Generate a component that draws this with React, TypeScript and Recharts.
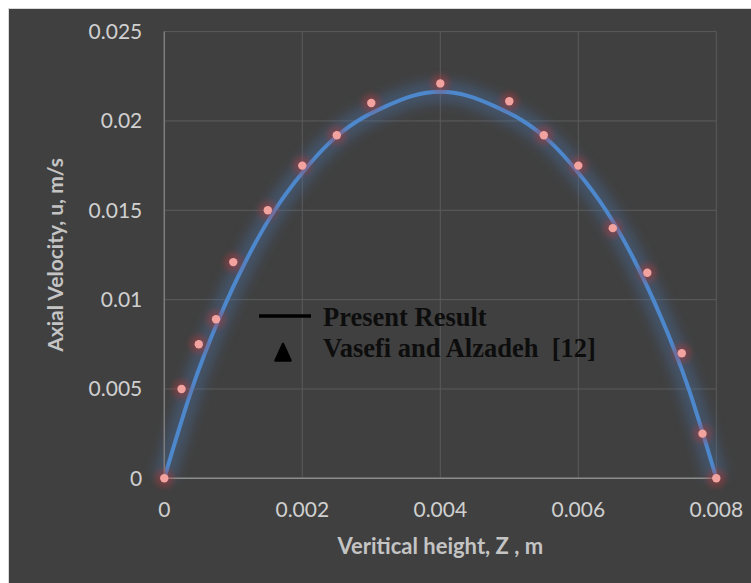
import React from 'react';
import { ComposedChart, Line, Scatter, XAxis, YAxis, CartesianGrid, Label } from 'recharts';

// Present result curve
const curveZ = [0, 0.0004, 0.0008, 0.0012, 0.0016, 0.002, 0.0024, 0.0028, 0.0032, 0.0036, 0.004, 0.0044, 0.0048, 0.0052, 0.0056, 0.006, 0.0064, 0.0068, 0.0072, 0.0076, 0.008];
const curveU = [0, 0.005, 0.009, 0.0123, 0.015, 0.0171, 0.0188, 0.02, 0.0208, 0.0214, 0.02163, 0.0214, 0.0208, 0.02, 0.0188, 0.0171, 0.015, 0.0123, 0.009, 0.005, 0];

// Vasefi and Alzadeh [12] points
const refZ = [0, 0.00025, 0.0005, 0.00075, 0.001, 0.0015, 0.002, 0.0025, 0.003, 0.004, 0.005, 0.0055, 0.006, 0.0065, 0.007, 0.0075, 0.0078, 0.008];
const refU = [0, 0.005, 0.0075, 0.0089, 0.0121, 0.015, 0.0175, 0.0192, 0.021, 0.0221, 0.0211, 0.0192, 0.0175, 0.014, 0.0115, 0.007, 0.0025, 0];

const xTicks = [0, 0.002, 0.004, 0.006, 0.008];
const yTicks = [0, 0.005, 0.01, 0.015, 0.02, 0.025];

const xTitle = 'Veritical height, Z , m';
const yTitle = 'Axial Velocity, u, m/s';
const legend1 = 'Present Result';
const legend2 = 'Vasefi and Alzadeh  [12]';

const curveData = curveZ.map((z, i) => ({ z, u: curveU[i] }));
const refData = refZ.map((z, i) => ({ z, u: refU[i] }));

const tickStyle = { fill: '#d0d0d0', fontFamily: 'Lato', fontSize: 21 };

const Dot = (props: any) => {
  const { cx, cy } = props;
  if (cx == null || cy == null) return null;
  return (
    <g>
      <circle cx={cx} cy={cy} r={9} fill="#b83a3a" opacity={0.45} style={{ filter: 'blur(3px)' }} />
      <circle cx={cx} cy={cy} r={4.2} fill="#f2a3a0" />
    </g>
  );
};

const XTitle = (props: any) => {
  const vb = props.viewBox || {};
  return (
    <text x={vb.x + vb.width / 2} y={554} textAnchor="middle" fill="#c4c4c4" fontFamily="Lato" fontWeight="bold" fontSize={22}>
      {xTitle}
    </text>
  );
};

const YTitle = (props: any) => {
  const vb = props.viewBox || {};
  const cy = vb.y + vb.height / 2;
  return (
    <text x={63} y={cy} transform={`rotate(-90, 63, ${cy})`} textAnchor="middle" fill="#c4c4c4" fontFamily="Lato" fontWeight="bold" fontSize={21}>
      {yTitle}
    </text>
  );
};

export default function App() {
  return (
    <div>
      <style>{`.glowline { filter: blur(6px); } body { overflow: hidden; }`}</style>
      <div style={{ position: 'fixed', left: 8, top: 8, right: 0, bottom: 0, background: '#404040', borderLeft: '1px solid #d9d9d9', borderTop: '1px solid #d9d9d9' }} />
      <div style={{ position: 'fixed', left: 0, top: 0, width: 751, height: 583 }}>
        <ComposedChart width={751} height={583} margin={{ top: 31.6, right: 34.7, bottom: 64.7, left: 84.3 }}>
          <CartesianGrid stroke="#5b5b5b" strokeWidth={1} />
          <XAxis
            dataKey="z"
            type="number"
            domain={[0, 0.008]}
            ticks={xTicks}
            height={40}
            tickSize={0}
            tickMargin={24}
            tickLine={false}
            axisLine={{ stroke: '#8c8c8c', strokeWidth: 1.5 }}
            tick={tickStyle}
            tickFormatter={(v: number) => String(v)}
          >
            <Label content={<XTitle />} />
          </XAxis>
          <YAxis
            type="number"
            domain={[0, 0.025]}
            ticks={yTicks}
            width={80}
            tickSize={0}
            tickMargin={22}
            tickLine={false}
            axisLine={{ stroke: '#7c7c7c', strokeWidth: 1.5 }}
            tick={tickStyle}
            tickFormatter={(v: number) => String(v)}
          >
            <Label content={<YTitle />} />
          </YAxis>
          <Line
            data={curveData}
            dataKey="u"
            type="natural"
            stroke="#4a78b4"
            strokeOpacity={0.35}
            strokeWidth={22}
            dot={false}
            activeDot={false}
            className="glowline"
            isAnimationActive={false}
            legendType="none"
          />
          <Line
            data={curveData}
            dataKey="u"
            type="natural"
            stroke="#4d87cc"
            strokeWidth={4}
            dot={false}
            activeDot={false}
            isAnimationActive={false}
          />
          <Scatter data={refData} dataKey="u" shape={<Dot />} isAnimationActive={false} />
        </ComposedChart>
      </div>
      <svg style={{ position: 'fixed', left: 0, top: 0, pointerEvents: 'none' }} width={751} height={583}>
        <line x1={259} x2={311} y1={316} y2={316} stroke="#000" strokeWidth={3.3} />
        <polygon points="283,344 290.5,360.5 275.5,360.5" fill="#000" stroke="#000" strokeWidth={2.5} strokeLinejoin="round" />
        <text x={323} y={326} fontFamily="Liberation Serif" fontWeight="bold" fontSize={26.5} fill="#0d0d0d">{legend1}</text>
        <text x={323} y={357} fontFamily="Liberation Serif" fontWeight="bold" fontSize={26.5} fill="#0d0d0d" style={{ whiteSpace: 'pre' }}>{legend2}</text>
      </svg>
    </div>
  );
}
